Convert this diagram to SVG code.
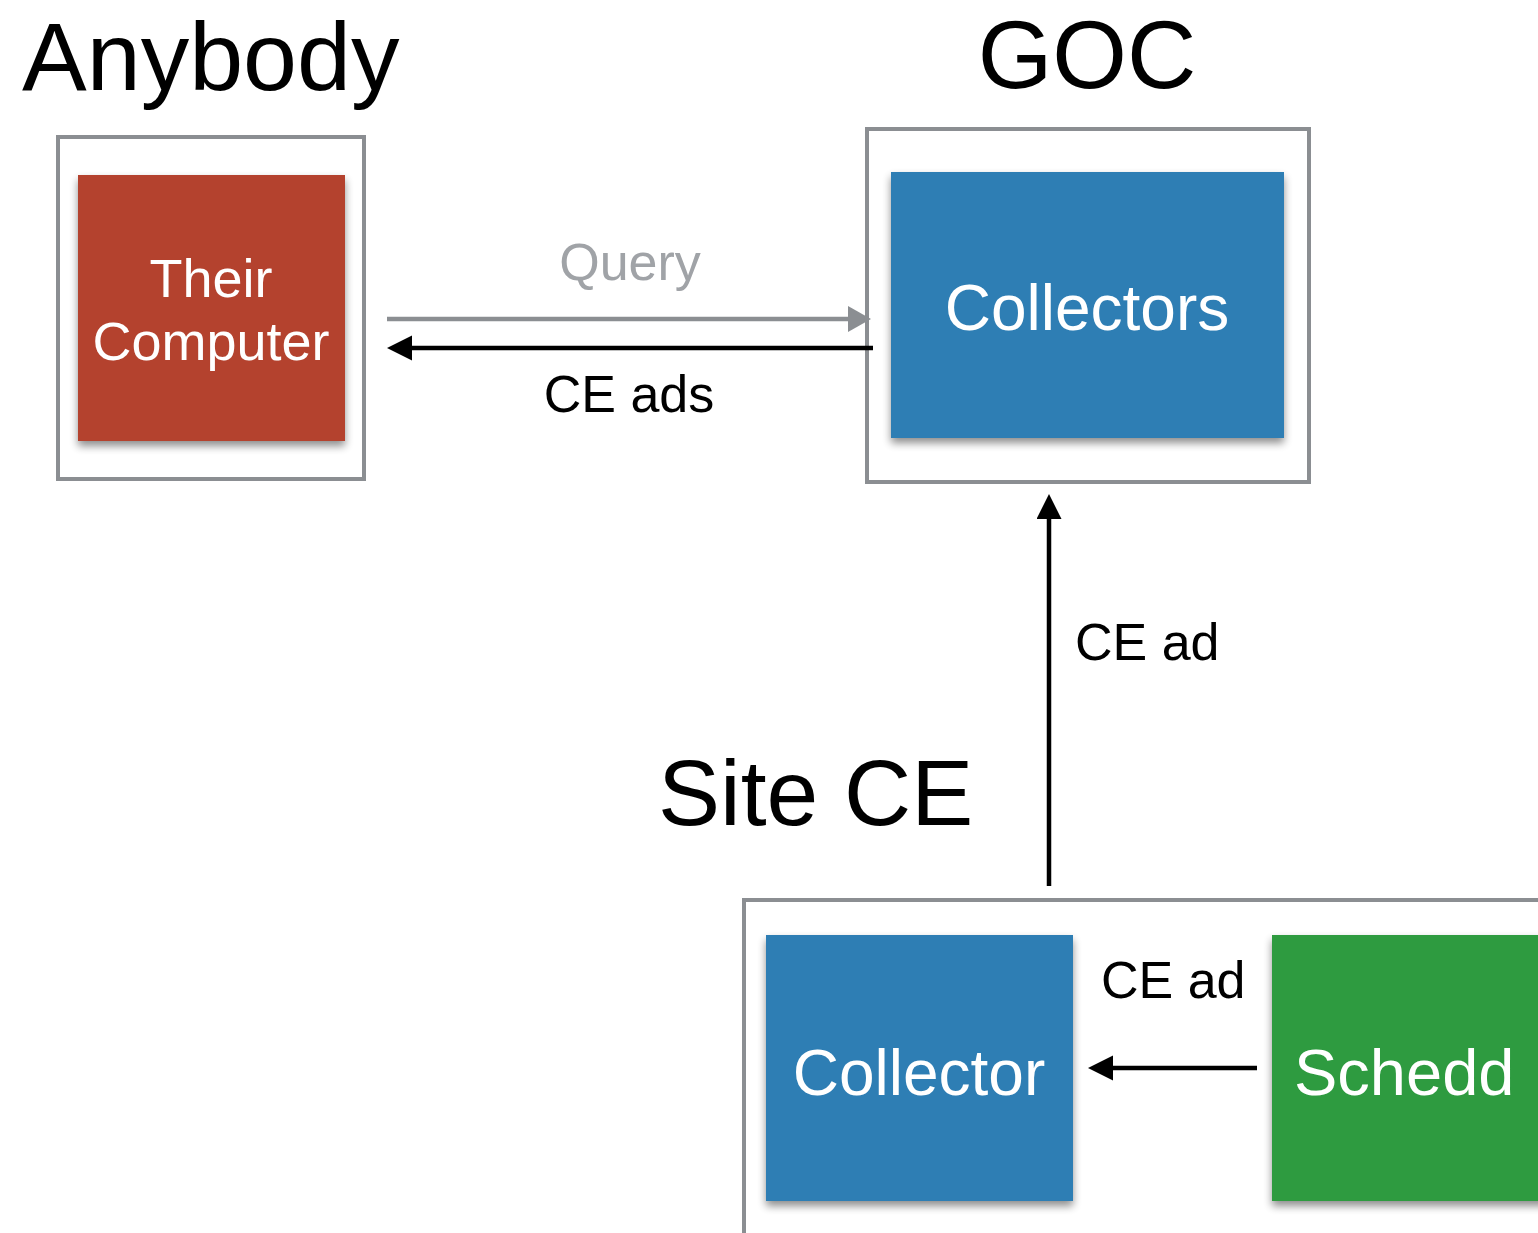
<svg xmlns="http://www.w3.org/2000/svg" width="1538" height="1233" viewBox="0 0 1538 1233">
<style>
.frame{fill:#fff;stroke:#8b8e92;stroke-width:4}
.title{font-family:"Liberation Sans",Arial,sans-serif;font-size:96px;fill:#000}
.lbl{font-family:"Liberation Sans",Arial,sans-serif;font-size:52px;fill:#000}
.box-txt{font-family:"Liberation Sans",Arial,sans-serif;font-size:62px;fill:#fff;text-anchor:middle}
.conn{fill:none;stroke-width:4.5}
</style>
<defs>
<filter id="sh" x="-10%" y="-10%" width="130%" height="130%">
<feGaussianBlur in="SourceAlpha" stdDeviation="4"/>
<feOffset dx="0" dy="5"/>
<feComponentTransfer><feFuncA type="linear" slope="0.45"/></feComponentTransfer>
<feMerge><feMergeNode/><feMergeNode in="SourceGraphic"/></feMerge>
</filter>
<marker id="ah-black" markerUnits="userSpaceOnUse" markerWidth="26" markerHeight="26" refX="15" refY="12.5" orient="auto">
<path d="M0,0 L25,12.5 L0,25 z" fill="#000"/>
</marker>
<marker id="ah-gray" markerUnits="userSpaceOnUse" markerWidth="26" markerHeight="26" refX="13" refY="13" orient="auto">
<path d="M0,0 L23,13 L0,26 z" fill="#8b8e92"/>
</marker>
</defs>
<rect width="1538" height="1233" fill="#fff"/>

<g id="anybody">
<text class="title" x="22" y="90" style="font-size:97px">Anybody</text>
<rect class="frame" x="58" y="137" width="306" height="342"/>
<g id="their-computer">
<rect x="78" y="175" width="267" height="266" fill="#b4432f" filter="url(#sh)"/>
<text class="box-txt" style="font-size:54px" x="211" y="297">Their</text>
<text class="box-txt" style="font-size:54px" x="211" y="360">Computer</text>
</g>
</g>

<g id="goc">
<text class="title" x="1087" y="88" text-anchor="middle">GOC</text>
<rect class="frame" x="867" y="129" width="442" height="353"/>
<g id="collectors">
<rect x="891" y="172" width="393" height="266" fill="#2f7eb4" filter="url(#sh)"/>
<text class="box-txt" style="font-size:64px" x="1087" y="330">Collectors</text>
</g>
</g>

<g id="site-ce">
<text class="title" x="658" y="825" style="font-size:93px">Site CE</text>
<rect class="frame" x="744" y="900" width="900" height="400"/>
<g id="collector">
<rect x="766" y="935" width="307" height="266" fill="#2f7eb4" filter="url(#sh)"/>
<text class="box-txt" style="font-size:64px" x="919" y="1095">Collector</text>
</g>
<g id="schedd">
<rect x="1272" y="935" width="300" height="266" fill="#2f9b40" filter="url(#sh)"/>
<text class="box-txt" style="font-size:65px;text-anchor:start" x="1294" y="1095">Schedd</text>
</g>
</g>

<g id="connectors">
<line class="conn" x1="387" y1="319" x2="861" y2="319" stroke="#8b8e92" marker-end="url(#ah-gray)"/>
<text class="lbl" x="630" y="280" text-anchor="middle" style="fill:#a0a3a7">Query</text>
<line class="conn" x1="873" y1="348" x2="397" y2="348" stroke="#000" marker-end="url(#ah-black)"/>
<text class="lbl" x="629" y="412" text-anchor="middle">CE ads</text>
<line class="conn" x1="1049" y1="886" x2="1049" y2="504" stroke="#000" marker-end="url(#ah-black)"/>
<text class="lbl" x="1075" y="660">CE ad</text>
<line class="conn" x1="1257" y1="1068" x2="1098" y2="1068" stroke="#000" marker-end="url(#ah-black)"/>
<text class="lbl" x="1101" y="998">CE ad</text>
</g>
</svg>
